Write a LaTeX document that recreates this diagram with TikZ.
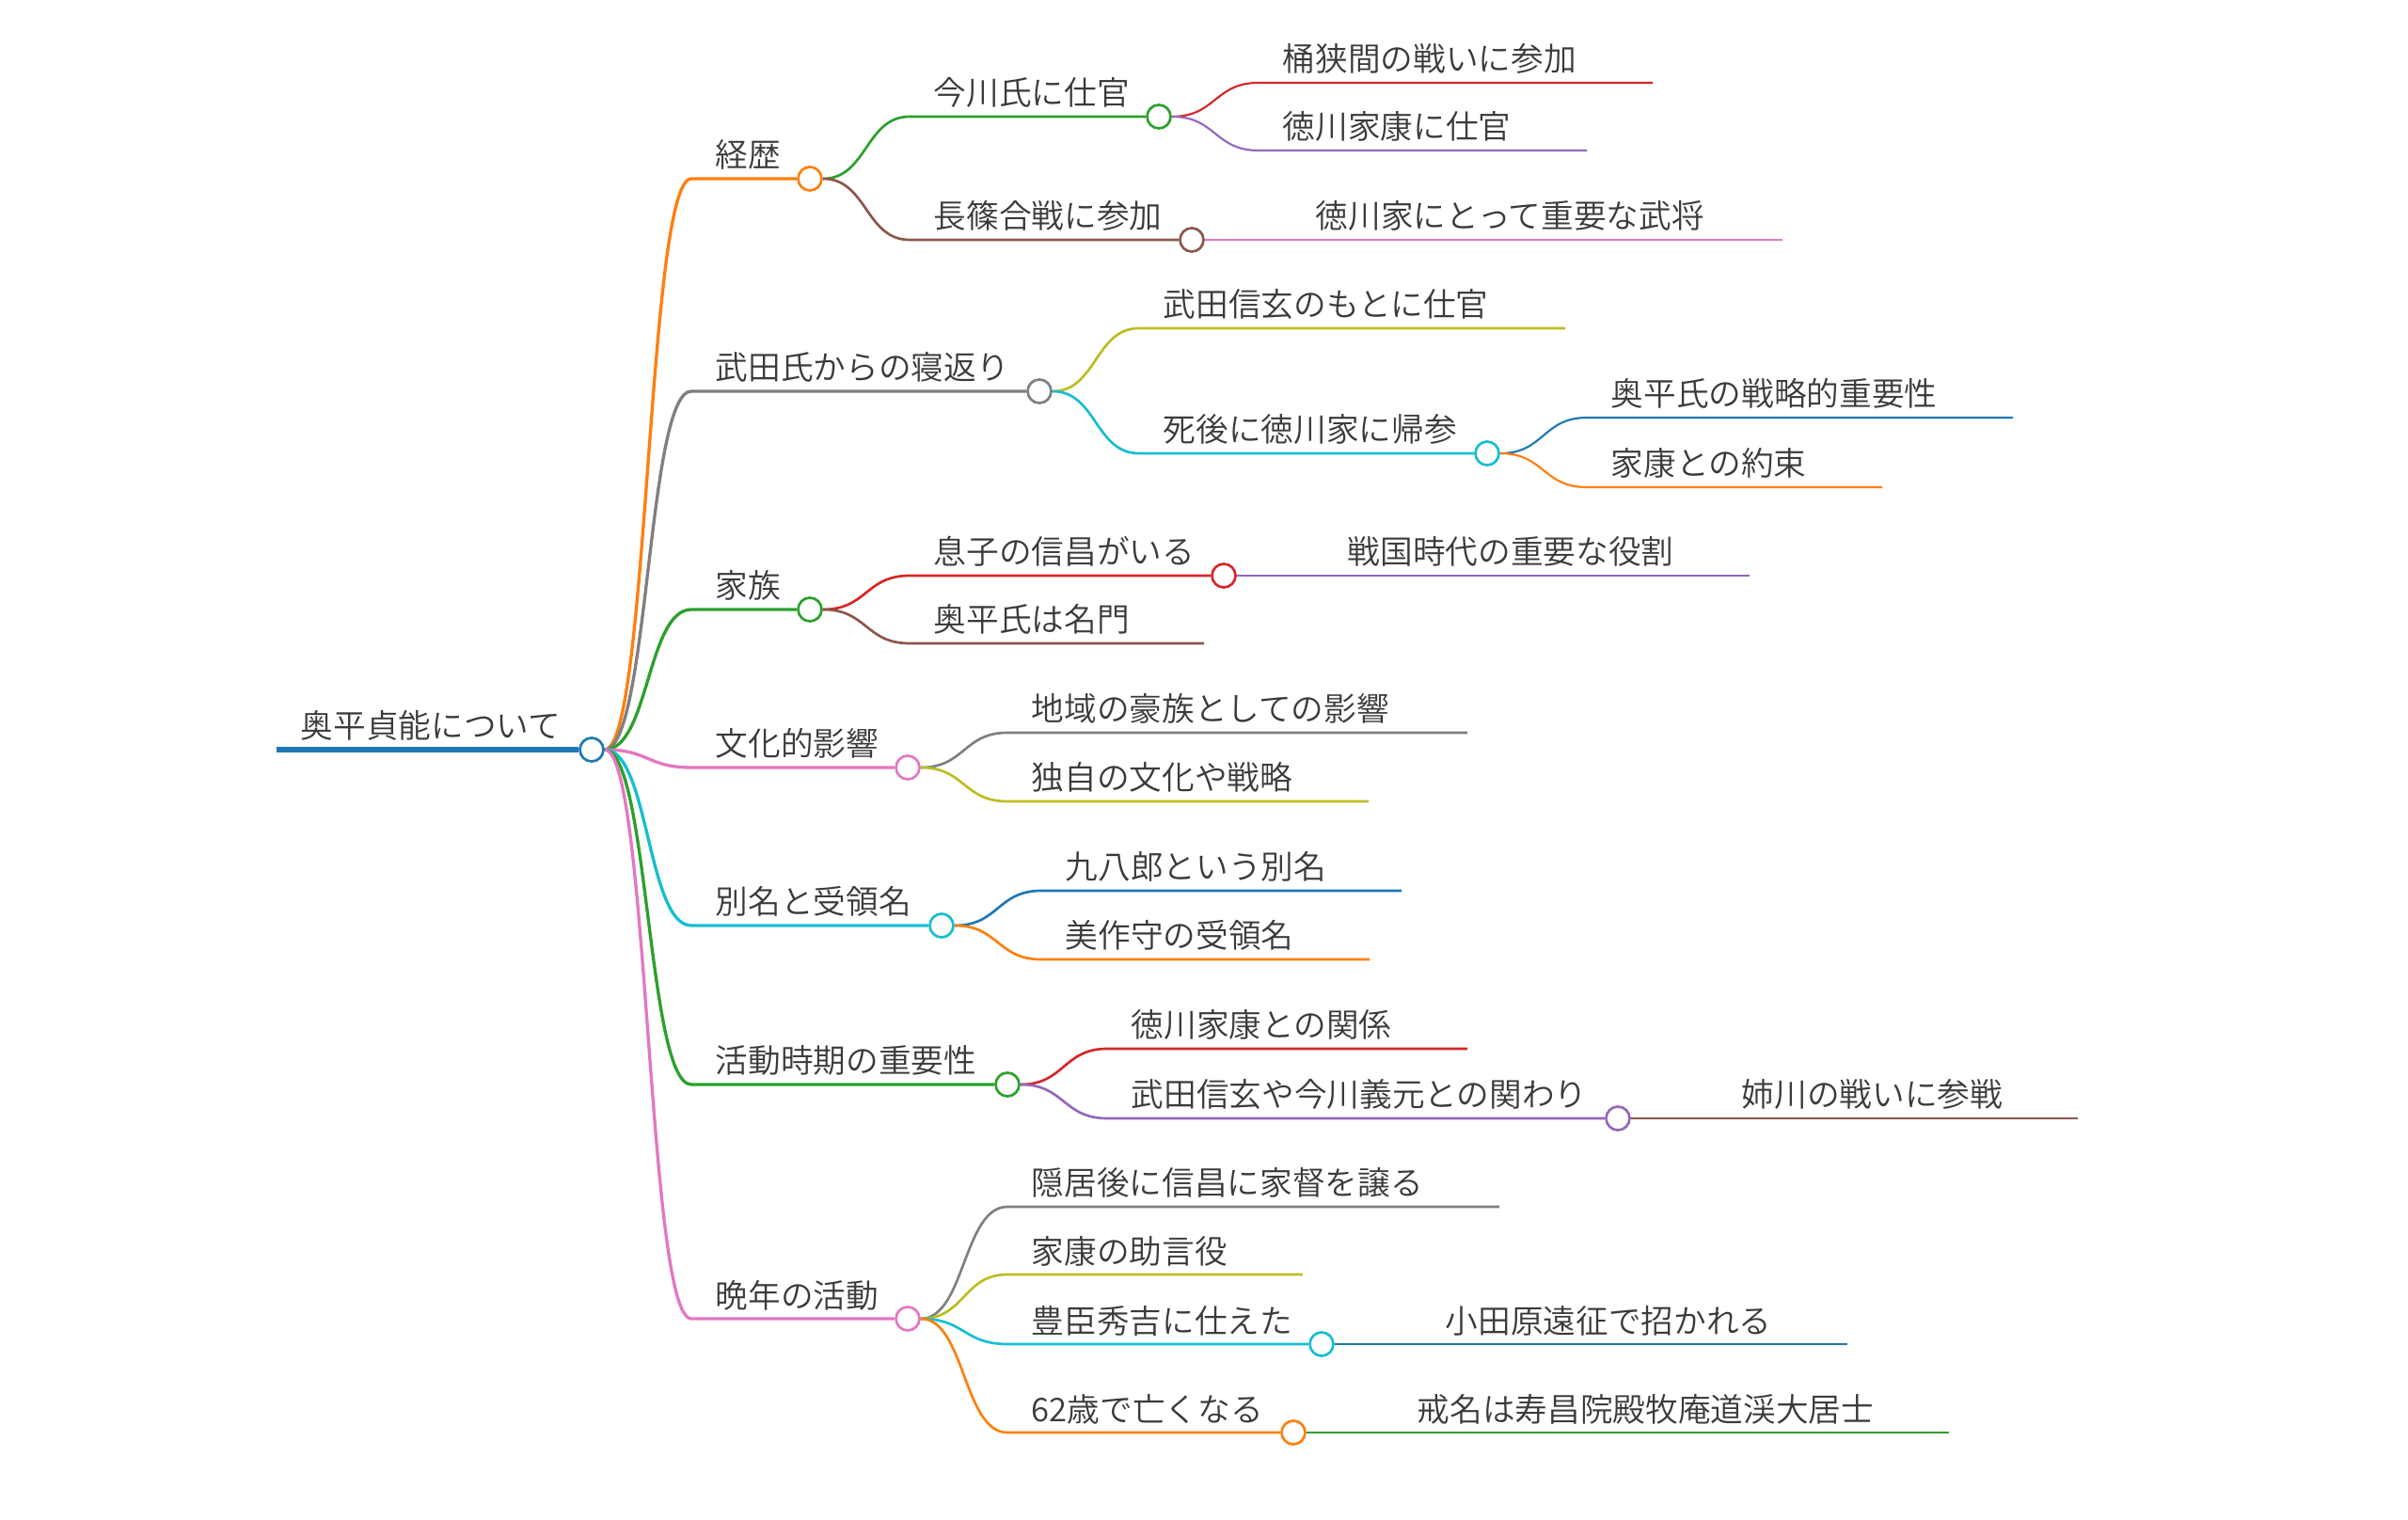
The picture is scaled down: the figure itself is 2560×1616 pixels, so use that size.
\documentclass[tikz,border=0pt]{standalone}
\usepackage{fontspec}
\setmainfont{Noto Sans CJK JP DemiLight}
\usetikzlibrary{backgrounds}
\definecolor{cblue}{HTML}{1F77B4}
\definecolor{corange}{HTML}{FF7F0E}
\definecolor{cgreen}{HTML}{2CA02C}
\definecolor{cred}{HTML}{D62728}
\definecolor{cpurple}{HTML}{9467BD}
\definecolor{cbrown}{HTML}{8C564B}
\definecolor{cpink}{HTML}{E377C2}
\definecolor{cgray}{HTML}{7F7F7F}
\definecolor{colive}{HTML}{BCBD22}
\definecolor{ccyan}{HTML}{17BECF}
\definecolor{txt}{HTML}{3A3A3A}

\begin{document}
\begin{tikzpicture}[x=0.3pt,y=-0.3pt,
  lbl/.style={anchor=base west,inner sep=0pt,text=txt,font=\fontsize{10.4pt}{12pt}\selectfont},
  dot/.style={circle,draw=#1,fill=white,line width=0.8pt,minimum size=7.5pt,inner sep=0pt},
  w0/.style={line width=1.6pt},
  w1/.style={line width=1pt},
  w2/.style={line width=0.8pt},
  w3/.style={line width=0.65pt}]
\useasboundingbox (0,0) rectangle (2560,1616);

% root
\coordinate (root-s) at (294,797);
\node[dot=cblue] (root) at (629,797) {};
\node[lbl] (root-t) at (319,785) {奥平貞能について};

% first level
\coordinate (keireki-s) at (735,190);
\node[dot=corange] (keireki) at (861,190) {};
\node[lbl] (keireki-t) at (760,178) {経歴};
\coordinate (takeda-s) at (735,416);
\node[dot=cgray] (takeda) at (1105,416) {};
\node[lbl] (takeda-t) at (760,404) {武田氏からの寝返り};
\coordinate (kazoku-s) at (735,648);
\node[dot=cgreen] (kazoku) at (861,648) {};
\node[lbl] (kazoku-t) at (760,636) {家族};
\coordinate (bunka-s) at (735,816);
\node[dot=cpink] (bunka) at (965,816) {};
\node[lbl] (bunka-t) at (760,804) {文化的影響};
\coordinate (betsumei-s) at (735,984);
\node[dot=ccyan] (betsumei) at (1001,984) {};
\node[lbl] (betsumei-t) at (760,972) {別名と受領名};
\coordinate (katsudo-s) at (735,1153);
\node[dot=cgreen] (katsudo) at (1071,1153) {};
\node[lbl] (katsudo-t) at (760,1141) {活動時期の重要性};
\coordinate (bannen-s) at (735,1402);
\node[dot=cpink] (bannen) at (965,1402) {};
\node[lbl] (bannen-t) at (760,1390) {晩年の活動};

% second level
\coordinate (imagawa-s) at (967,124);
\node[dot=cgreen] (imagawa) at (1232,124) {};
\node[lbl] (imagawa-t) at (992,112) {今川氏に仕官};
\coordinate (nagashino-s) at (967,255);
\node[dot=cbrown] (nagashino) at (1267,255) {};
\node[lbl] (nagashino-t) at (992,243) {長篠合戦に参加};
\coordinate (shingen-s) at (1211,349); \coordinate (shingen-e) at (1664,349);
\node[lbl] (shingen-t) at (1236,337) {武田信玄のもとに仕官};
\coordinate (kisan-s) at (1211,482);
\node[dot=ccyan] (kisan) at (1581,482) {};
\node[lbl] (kisan-t) at (1236,470) {死後に徳川家に帰参};
\coordinate (musuko-s) at (967,612);
\node[dot=cred] (musuko) at (1301,612) {};
\node[lbl] (musuko-t) at (992,600) {息子の信昌がいる};
\coordinate (meimon-s) at (967,684); \coordinate (meimon-e) at (1280,684);
\node[lbl] (meimon-t) at (992,672) {奥平氏は名門};
\coordinate (gozoku-s) at (1071,779); \coordinate (gozoku-e) at (1560,779);
\node[lbl] (gozoku-t) at (1096,767) {地域の豪族としての影響};
\coordinate (dokuji-s) at (1071,852); \coordinate (dokuji-e) at (1455,852);
\node[lbl] (dokuji-t) at (1096,840) {独自の文化や戦略};
\coordinate (kuhachi-s) at (1107,947); \coordinate (kuhachi-e) at (1490,947);
\node[lbl] (kuhachi-t) at (1132,935) {九八郎という別名};
\coordinate (mimasaka-s) at (1107,1020); \coordinate (mimasaka-e) at (1456,1020);
\node[lbl] (mimasaka-t) at (1132,1008) {美作守の受領名};
\coordinate (kankei-s) at (1177,1115); \coordinate (kankei-e) at (1560,1115);
\node[lbl] (kankei-t) at (1202,1103) {徳川家康との関係};
\coordinate (kakawari-s) at (1177,1189);
\node[dot=cpurple] (kakawari) at (1720,1189) {};
\node[lbl] (kakawari-t) at (1202,1177) {武田信玄や今川義元との関わり};
\coordinate (inkyo-s) at (1071,1283); \coordinate (inkyo-e) at (1594,1283);
\node[lbl] (inkyo-t) at (1096,1271) {隠居後に信昌に家督を譲る};
\coordinate (jogen-s) at (1071,1355); \coordinate (jogen-e) at (1385,1355);
\node[lbl] (jogen-t) at (1096,1343) {家康の助言役};
\coordinate (hideyoshi-s) at (1071,1429);
\node[dot=ccyan] (hideyoshi) at (1405,1429) {};
\node[lbl] (hideyoshi-t) at (1096,1417) {豊臣秀吉に仕えた};
\coordinate (shikyo-s) at (1071,1523);
\node[dot=corange] (shikyo) at (1375,1523) {};
\node[lbl] (shikyo-t) at (1096,1511) {62歳で亡くなる};

% third level
\coordinate (okehazama-s) at (1338,88); \coordinate (okehazama-e) at (1757,88);
\node[lbl] (okehazama-t) at (1363,76) {桶狭間の戦いに参加};
\coordinate (tsukae-s) at (1338,160); \coordinate (tsukae-e) at (1687,160);
\node[lbl] (tsukae-t) at (1363,148) {徳川家康に仕官};
\coordinate (busho-s) at (1373,255); \coordinate (busho-e) at (1895,255);
\node[lbl] (busho-t) at (1398,243) {徳川家にとって重要な武将};
\coordinate (senryaku-s) at (1687,444); \coordinate (senryaku-e) at (2140,444);
\node[lbl] (senryaku-t) at (1712,432) {奥平氏の戦略的重要性};
\coordinate (yakusoku-s) at (1687,518); \coordinate (yakusoku-e) at (2001,518);
\node[lbl] (yakusoku-t) at (1712,506) {家康との約束};
\coordinate (yakuwari-s) at (1407,612); \coordinate (yakuwari-e) at (1860,612);
\node[lbl] (yakuwari-t) at (1432,600) {戦国時代の重要な役割};
\coordinate (anegawa-s) at (1826,1189); \coordinate (anegawa-e) at (2209,1189);
\node[lbl] (anegawa-t) at (1851,1177) {姉川の戦いに参戦};
\coordinate (odawara-s) at (1511,1429); \coordinate (odawara-e) at (1964,1429);
\node[lbl] (odawara-t) at (1536,1417) {小田原遠征で招かれる};
\coordinate (kaimyo-s) at (1481,1523); \coordinate (kaimyo-e) at (2072,1523);
\node[lbl] (kaimyo-t) at (1506,1511) {戒名は寿昌院殿牧庵道渓大居士};

\begin{scope}[on background layer]
\draw[w0,cblue] (root-s) -- (root);
% root -> first level
\draw[w1,corange] (root.east) .. controls +(47,0) and +(-47,0) .. (keireki-s) -- (keireki);
\draw[w1,cgray] (root.east) .. controls +(47,0) and +(-47,0) .. (takeda-s) -- (takeda);
\draw[w1,cgreen] (root.east) .. controls +(47,0) and +(-47,0) .. (kazoku-s) -- (kazoku);
\draw[w1,cpink] (root.east) .. controls +(47,0) and +(-47,0) .. (bunka-s) -- (bunka);
\draw[w1,ccyan] (root.east) .. controls +(47,0) and +(-47,0) .. (betsumei-s) -- (betsumei);
\draw[w1,cgreen] (root.east) .. controls +(47,0) and +(-47,0) .. (katsudo-s) -- (katsudo);
\draw[w1,cpink] (root.east) .. controls +(47,0) and +(-47,0) .. (bannen-s) -- (bannen);
% second level
\draw[w2,cgreen] (keireki.east) .. controls +(47,0) and +(-47,0) .. (imagawa-s) -- (imagawa);
\draw[w2,cbrown] (keireki.east) .. controls +(47,0) and +(-47,0) .. (nagashino-s) -- (nagashino);
\draw[w2,colive] (takeda.east) .. controls +(47,0) and +(-47,0) .. (shingen-s) -- (shingen-e);
\draw[w2,ccyan] (takeda.east) .. controls +(47,0) and +(-47,0) .. (kisan-s) -- (kisan);
\draw[w2,cred] (kazoku.east) .. controls +(47,0) and +(-47,0) .. (musuko-s) -- (musuko);
\draw[w2,cbrown] (kazoku.east) .. controls +(47,0) and +(-47,0) .. (meimon-s) -- (meimon-e);
\draw[w2,cgray] (bunka.east) .. controls +(47,0) and +(-47,0) .. (gozoku-s) -- (gozoku-e);
\draw[w2,colive] (bunka.east) .. controls +(47,0) and +(-47,0) .. (dokuji-s) -- (dokuji-e);
\draw[w2,cblue] (betsumei.east) .. controls +(47,0) and +(-47,0) .. (kuhachi-s) -- (kuhachi-e);
\draw[w2,corange] (betsumei.east) .. controls +(47,0) and +(-47,0) .. (mimasaka-s) -- (mimasaka-e);
\draw[w2,cred] (katsudo.east) .. controls +(47,0) and +(-47,0) .. (kankei-s) -- (kankei-e);
\draw[w2,cpurple] (katsudo.east) .. controls +(47,0) and +(-47,0) .. (kakawari-s) -- (kakawari);
\draw[w2,cgray] (bannen.east) .. controls +(47,0) and +(-47,0) .. (inkyo-s) -- (inkyo-e);
\draw[w2,colive] (bannen.east) .. controls +(47,0) and +(-47,0) .. (jogen-s) -- (jogen-e);
\draw[w2,ccyan] (bannen.east) .. controls +(47,0) and +(-47,0) .. (hideyoshi-s) -- (hideyoshi);
\draw[w2,corange] (bannen.east) .. controls +(47,0) and +(-47,0) .. (shikyo-s) -- (shikyo);
% third level
\draw[w3,cred] (imagawa.east) .. controls +(47,0) and +(-47,0) .. (okehazama-s) -- (okehazama-e);
\draw[w3,cpurple] (imagawa.east) .. controls +(47,0) and +(-47,0) .. (tsukae-s) -- (tsukae-e);
\draw[w3,cpink] (nagashino.east) -- (busho-s) -- (busho-e);
\draw[w3,cblue] (kisan.east) .. controls +(47,0) and +(-47,0) .. (senryaku-s) -- (senryaku-e);
\draw[w3,corange] (kisan.east) .. controls +(47,0) and +(-47,0) .. (yakusoku-s) -- (yakusoku-e);
\draw[w3,cpurple] (musuko.east) -- (yakuwari-s) -- (yakuwari-e);
\draw[w3,cbrown] (kakawari.east) -- (anegawa-s) -- (anegawa-e);
\draw[w3,cblue] (hideyoshi.east) -- (odawara-s) -- (odawara-e);
\draw[w3,cgreen] (shikyo.east) -- (kaimyo-s) -- (kaimyo-e);
\end{scope}
\end{tikzpicture}
\end{document}
